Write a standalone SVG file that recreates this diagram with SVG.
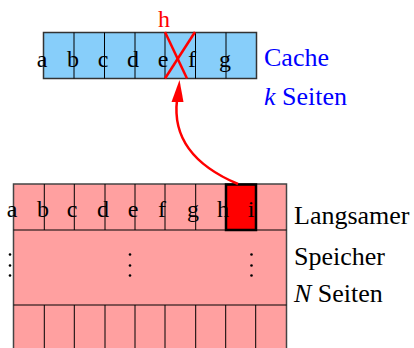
<svg xmlns="http://www.w3.org/2000/svg" width="414" height="348" viewBox="0 0 414 348">
<style>
text{font-family:'Liberation Serif','DejaVu Serif','Times New Roman',serif}
.lt{font-size:24px;fill:#000;text-anchor:middle}
.lbl{font-size:26px;fill:#000}
.blue{fill:#0000ff}
.red{fill:#ff0000}
.cache{fill:#87cefa;stroke:#333;stroke-width:1.5}
.mem{fill:#ffa0a0;stroke:#444;stroke-width:1.5}
.div{stroke:#000;stroke-width:1}
.dot{fill:#000}
</style>
<g id="cache">
<rect class="cache" x="43.5" y="32.5" width="213" height="46"/>
<g class="div">
<line x1="74" y1="32.5" x2="74" y2="78.5"/>
<line x1="104.5" y1="32.5" x2="104.5" y2="78.5"/>
<line x1="135" y1="32.5" x2="135" y2="78.5"/>
<line x1="165" y1="32.5" x2="165" y2="78.5"/>
<line x1="195.5" y1="32.5" x2="195.5" y2="78.5"/>
<line x1="226" y1="32.5" x2="226" y2="78.5"/>
</g>
<g font-family="Liberation Serif, serif">
<text class="lt" x="42" y="67">a</text>
<text class="lt" x="73" y="67">b</text>
<text class="lt" x="103" y="67">c</text>
<text class="lt" x="133" y="67">d</text>
<text class="lt" x="163" y="67">e</text>
<text class="lt" x="192" y="67">f</text>
<text class="lt" x="225" y="67">g</text>
<text class="lt red" x="164" y="27">h</text>
</g>
<g stroke="#ff0000" stroke-width="2.5">
<line x1="165" y1="32" x2="187" y2="78.5"/>
<line x1="195" y1="32" x2="165" y2="78.5"/>
</g>
<text class="lbl blue" x="264" y="66">Cache</text>
<text class="lbl blue" x="264" y="105"><tspan font-style="italic">k</tspan> Seiten</text>
</g>
<g id="memory">
<rect class="mem" x="13.5" y="184" width="273" height="170"/>
<g class="div">
<line x1="13.5" y1="230" x2="286.5" y2="230"/>
<line x1="13.5" y1="305" x2="286.5" y2="305"/>
<line x1="44.3" y1="184" x2="44.3" y2="230"/>
<line x1="74.3" y1="184" x2="74.3" y2="230"/>
<line x1="105" y1="184" x2="105" y2="230"/>
<line x1="135" y1="184" x2="135" y2="230"/>
<line x1="165" y1="184" x2="165" y2="230"/>
<line x1="195.7" y1="184" x2="195.7" y2="230"/>
<line x1="255.7" y1="184" x2="255.7" y2="230"/>
<line x1="44.3" y1="305" x2="44.3" y2="350"/>
<line x1="74.3" y1="305" x2="74.3" y2="350"/>
<line x1="105" y1="305" x2="105" y2="350"/>
<line x1="135" y1="305" x2="135" y2="350"/>
<line x1="165" y1="305" x2="165" y2="350"/>
<line x1="195.7" y1="305" x2="195.7" y2="350"/>
<line x1="225.7" y1="305" x2="225.7" y2="350"/>
<line x1="255.7" y1="305" x2="255.7" y2="350"/>
</g>
<rect x="226" y="184.5" width="30" height="45.5" fill="#ff0000" stroke="#000" stroke-width="2.5"/>
<text class="lt" x="12" y="217">a</text>
<text class="lt" x="43" y="217">b</text>
<text class="lt" x="72" y="217">c</text>
<text class="lt" x="103" y="217">d</text>
<text class="lt" x="133" y="217">e</text>
<text class="lt" x="162" y="217">f</text>
<text class="lt" x="193" y="217">g</text>
<text class="lt" x="223" y="217">h</text>
<text class="lt" x="251" y="217">i</text>
<g class="dot">
<circle cx="10" cy="254.5" r="1.3"/><circle cx="10" cy="265.5" r="1.3"/><circle cx="10" cy="275.5" r="1.3"/>
<circle cx="130" cy="254.5" r="1.3"/><circle cx="130" cy="265.5" r="1.3"/><circle cx="130" cy="275.5" r="1.3"/>
<circle cx="251.5" cy="254.5" r="1.3"/><circle cx="251.5" cy="265.5" r="1.3"/><circle cx="251.5" cy="275.5" r="1.3"/>
</g>
<text class="lbl" x="294" y="224">Langsamer</text>
<text class="lbl" x="294" y="265">Speicher</text>
<text class="lbl" x="294" y="302"><tspan font-style="italic">N</tspan> Seiten</text>
</g>
<g id="connectors">
<path d="M238,184 C200,168 172,142 177,100" fill="none" stroke="#ff0000" stroke-width="2.5"/>
<path d="M179.5,80 L171.5,102 L183.5,102 Z" fill="#ff0000"/>
</g>
</svg>
